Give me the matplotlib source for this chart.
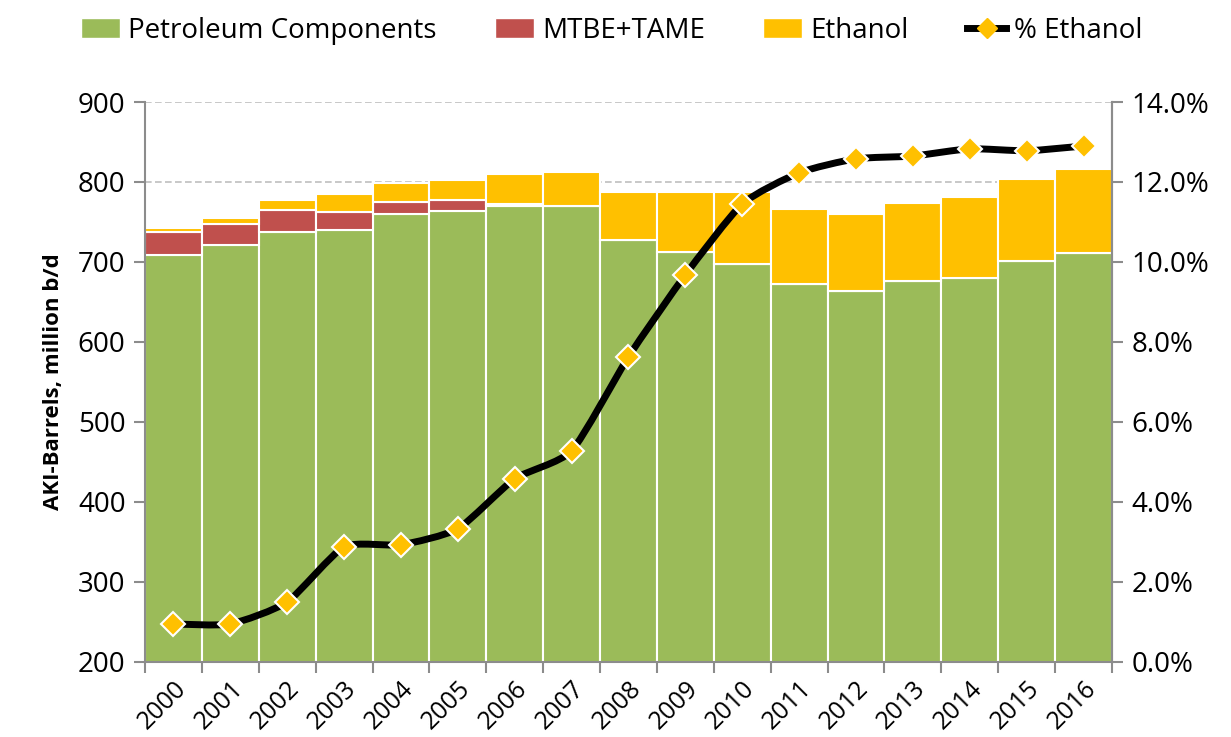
import numpy as np
import matplotlib
matplotlib.use('Agg')
import matplotlib.pyplot as plt
from matplotlib.path import Path
from matplotlib.patches import PathPatch
from matplotlib.lines import Line2D
from matplotlib.ticker import FuncFormatter, MultipleLocator

plt.rcParams['font.family'] = ['Open Sans', 'DejaVu Sans']

years = [str(y) for y in range(2000, 2017)]
petroleum = [709, 721, 737, 740, 760, 764, 770, 770, 727, 712, 697, 672, 664, 676, 680, 701, 711]
mtbe = [28, 27, 28, 22, 15, 13, 3, 0, 0, 0, 0, 0, 0, 0, 0, 0, 0]
ethanol = [6, 7, 12, 23, 24, 26, 37, 43, 60, 76, 90, 94, 96, 98, 101, 103, 105]
pct_ethanol = [0.95, 0.95, 1.5, 2.88, 2.93, 3.33, 4.58, 5.28, 7.63, 9.68, 11.45,
               12.23, 12.58, 12.65, 12.83, 12.78, 12.9]

GREEN = '#9BBB59'
RED = '#C0504D'
GOLD = '#FFC000'
GRAY = '#8c8c8c'

fig = plt.figure(figsize=(12.31, 7.37), dpi=100)
ax = fig.add_axes([0.1178, 0.1018, 0.9033 - 0.1178, 0.8616 - 0.1018])

x = np.arange(len(years))
ax.bar(x, petroleum, width=1.0, bottom=0, color=GREEN, edgecolor='white', linewidth=1.5)
ax.bar(x, mtbe, width=1.0, bottom=petroleum, color=RED, edgecolor='white', linewidth=1.5)
bottom2 = np.array(petroleum) + np.array(mtbe)
ax.bar(x, ethanol, width=1.0, bottom=bottom2, color=GOLD, edgecolor='white', linewidth=1.5)

ax.set_xlim(-0.5, len(years) - 0.5)
ax.set_ylim(200, 900)
ax.yaxis.set_major_locator(MultipleLocator(100))
ax.set_axisbelow(True)
ax.grid(axis='y', color='#bfbfbf', linestyle=(0, (4, 2)), linewidth=1.2)

ax.set_xticks(x)
ax.set_xticklabels(years, rotation=45, ha='right', rotation_mode='anchor', fontsize=18)
ax.tick_params(axis='x', which='major', length=0, pad=10)
ax.set_xticks(np.arange(-0.5, len(years)), minor=True)
ax.tick_params(axis='x', which='minor', length=8, color=GRAY, width=1.5)
ax.tick_params(axis='y', labelsize=20, length=8, color=GRAY, width=1.5, pad=6)
ax.set_ylabel('AKI-Barrels, million b/d', fontsize=16, fontweight='bold', labelpad=10)

ax.spines['top'].set_visible(False)
for side in ['left', 'bottom', 'right']:
    ax.spines[side].set_color(GRAY)
    ax.spines[side].set_linewidth(1.5)

ax2 = ax.twinx()
ax2.set_ylim(0, 14)
ax2.yaxis.set_major_locator(MultipleLocator(2))
ax2.yaxis.set_major_formatter(FuncFormatter(lambda v, p: f'{v:.1f}%'))
ax2.tick_params(axis='y', labelsize=20, length=8, color=GRAY, width=1.5, pad=6)
for side in ['top', 'left', 'bottom']:
    ax2.spines[side].set_visible(False)
ax2.spines['right'].set_color(GRAY)
ax2.spines['right'].set_linewidth(1.5)

# smoothed line, drawn as cubic Bezier segments through the data points
px = x.astype(float)
py = np.array(pct_ethanol, dtype=float)
k = 0.1
verts = [(px[0], py[0])]
codes = [Path.MOVETO]
n = len(px)
for i in range(n - 1):
    p0 = (px[max(i - 1, 0)], py[max(i - 1, 0)])
    p1 = (px[i], py[i])
    p2 = (px[i + 1], py[i + 1])
    p3 = (px[min(i + 2, n - 1)], py[min(i + 2, n - 1)])
    c1 = (p1[0] + (p2[0] - p0[0]) * k, p1[1] + (p2[1] - p0[1]) * k)
    c2 = (p2[0] - (p3[0] - p1[0]) * k, p2[1] - (p3[1] - p1[1]) * k)
    verts += [c1, c2, p2]
    codes += [Path.CURVE4] * 3
ax2.add_patch(PathPatch(Path(verts, codes), facecolor='none', edgecolor='black',
                        linewidth=5, zorder=3, capstyle='round', joinstyle='round'))
ax2.plot(px, py, linestyle='none', marker='D', markersize=12.5, markerfacecolor=GOLD,
         markeredgecolor='white', markeredgewidth=1.5, zorder=4)

handles = [
    plt.Rectangle((0, 0), 1, 1, facecolor=GREEN, edgecolor='white'),
    plt.Rectangle((0, 0), 1, 1, facecolor=RED, edgecolor='white'),
    plt.Rectangle((0, 0), 1, 1, facecolor=GOLD, edgecolor='white'),
    Line2D([0], [0], color='black', linewidth=5, marker='D', markersize=10,
           markerfacecolor=GOLD, markeredgecolor=GOLD),
]
labels = ['Petroleum Components', 'MTBE+TAME', 'Ethanol', '% Ethanol']
fig.legend(handles, labels, loc='upper center', bbox_to_anchor=(0.497, 1.0), ncol=4,
           frameon=False, fontsize=20, handlelength=1.4, handletextpad=0.3,
           columnspacing=2.1, borderaxespad=0.2)

fig.savefig('out.png', dpi=100)
